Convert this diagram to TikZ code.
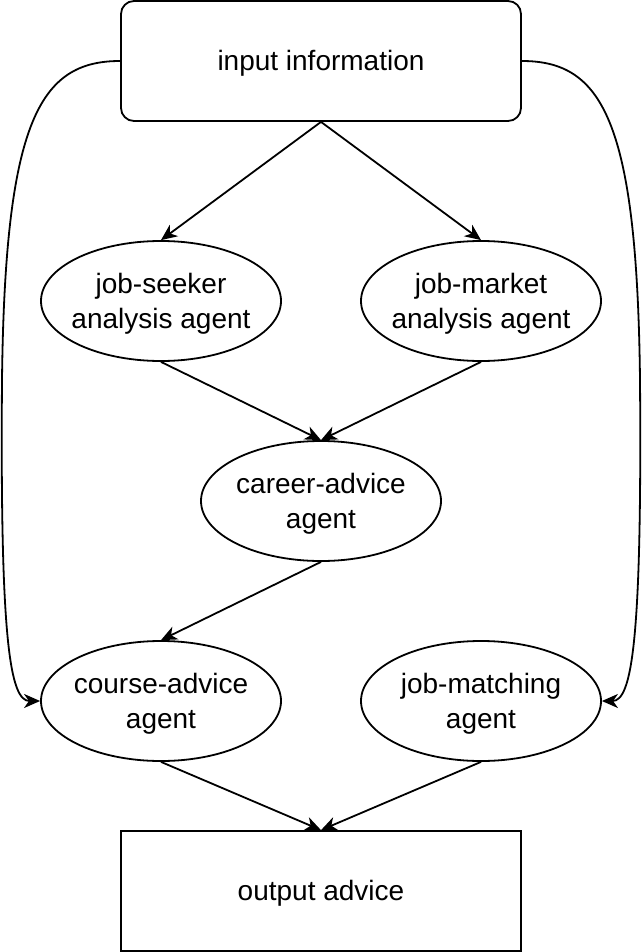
\documentclass[tikz,border=0pt]{standalone}
\usepackage{fontspec}
\setmainfont{Liberation Sans}
\usetikzlibrary{arrows.meta,shapes.geometric}
\newcommand{\twolines}[2]{\raisebox{-1.5pt}[\height][\depth]{\makebox[0pt][c]{\begin{tabular}{@{}c@{}}#1\\#2\end{tabular}}}}
\newcommand{\oneline}[1]{\raisebox{-1pt}[\height][\depth]{#1}}
\begin{document}
\begin{tikzpicture}[x=0.5pt,y=-0.5pt,
  every node/.style={font=\fontsize{14}{17.5}\selectfont, align=center, inner sep=0pt},
  rbox/.style={draw, line width=0.9pt, rounded corners=6.5pt, minimum width=200pt, minimum height=60pt},
  pbox/.style={draw, line width=0.9pt, minimum width=200pt, minimum height=60pt},
  agent/.style={draw, ellipse, line width=0.9pt, minimum width=120pt, minimum height=60pt},
  conn/.style={draw, line width=0.9pt, -{Stealth[length=8pt,width=7pt,inset=2.4pt]}}
]
\useasboundingbox (0,0) rectangle (642,952);
\node[rbox] (in) at (321,61) {\oneline{input information}};
\node[agent] (js) at (161,301) {\twolines{job-seeker}{analysis agent}};
\node[agent] (jm) at (481,301) {\twolines{job-market}{analysis agent}};
\node[agent] (ca) at (321,501) {\twolines{career-advice}{agent}};
\node[agent] (co) at (161,701) {\twolines{course-advice}{agent}};
\node[agent] (jb) at (481,701) {\twolines{job-matching}{agent}};
\node[pbox] (out) at (321,891) {\oneline{output advice}};
\coordinate (lm) at (2,380);
\coordinate (rm) at (640,380);

\draw[conn] (in.south) -- (js.north);
\draw[conn] (in.south) -- (jm.north);
\draw[conn] (js.south) -- (ca.north);
\draw[conn] (jm.south) -- (ca.north);
\draw[conn] (ca.south) -- (co.north);
\draw[conn] (co.south) -- (out.north);
\draw[conn] (jb.south) -- (out.north);
\draw[conn] (in.west) .. controls (40,61) and (5,120) .. (lm) .. controls (0,640) and (10,701) .. (co.west);
\draw[conn] (in.east) .. controls (602,61) and (637,120) .. (rm) .. controls (642,640) and (632,701) .. (jb.east);
\end{tikzpicture}
\end{document}
